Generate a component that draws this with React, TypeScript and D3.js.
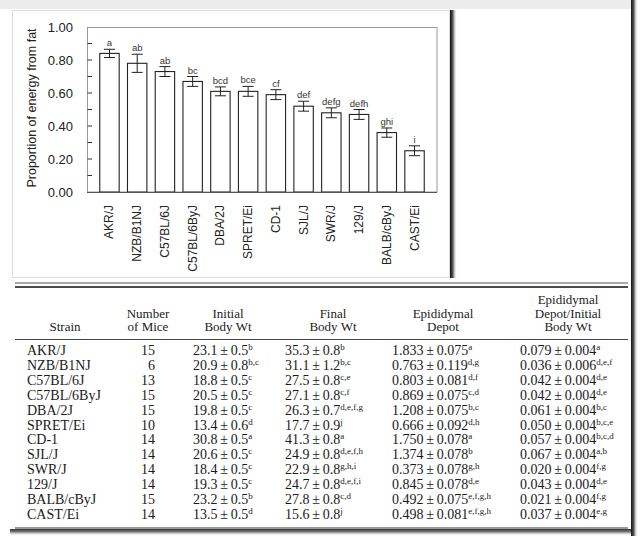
import * as d3 from 'd3';

// Bar chart: proportion of energy from fat, by strain
const strains = ['AKR/J', 'NZB/B1NJ', 'C57BL/6J', 'C57BL/6ByJ', 'DBA/2J', 'SPRET/Ei', 'CD-1', 'SJL/J', 'SWR/J', '129/J', 'BALB/cByJ', 'CAST/Ei'];
const fatProp = [0.84, 0.78, 0.73, 0.67, 0.61, 0.61, 0.59, 0.52, 0.48, 0.47, 0.36, 0.25];
const fatErr = [0.025, 0.055, 0.03, 0.03, 0.027, 0.03, 0.03, 0.03, 0.03, 0.03, 0.028, 0.03];
const fatGroups = ['a', 'ab', 'ab', 'bc', 'bcd', 'bce', 'cf', 'def', 'defg', 'defh', 'ghi', 'i'];
const yTicks = [0, 0.2, 0.4, 0.6, 0.8, 1.0];
const yMinorTicks = [0.1, 0.2, 0.3, 0.4, 0.5, 0.6, 0.7, 0.8, 0.9];

// Table columns
const mice = [15, 6, 13, 15, 15, 10, 14, 14, 14, 14, 15, 14];
const initialWt = ['23.1', '20.9', '18.8', '20.5', '19.8', '13.4', '30.8', '20.6', '18.4', '19.3', '23.2', '13.5'];
const initialSe = ['0.5', '0.8', '0.5', '0.5', '0.5', '0.6', '0.5', '0.5', '0.5', '0.5', '0.5', '0.5'];
const initialSup = ['b', 'b,c', 'c', 'c', 'c', 'd', 'a', 'c', 'c', 'c', 'b', 'd'];
const finalWt = ['35.3', '31.1', '27.5', '27.1', '26.3', '17.7', '41.3', '24.9', '22.9', '24.7', '27.8', '15.6'];
const finalSe = ['0.8', '1.2', '0.8', '0.8', '0.7', '0.9', '0.8', '0.8', '0.8', '0.8', '0.8', '0.8'];
const finalSup = ['b', 'b,c', 'c,e', 'c,f', 'd,e,f,g', 'j', 'a', 'd,e,f,h', 'g,h,i', 'd,e,f,i', 'c,d', 'j'];
const depot = ['1.833', '0.763', '0.803', '0.869', '1.208', '0.666', '1.750', '1.374', '0.373', '0.845', '0.492', '0.498'];
const depotSe = ['0.075', '0.119', '0.081', '0.075', '0.075', '0.092', '0.078', '0.078', '0.078', '0.078', '0.075', '0.081'];
const depotSup = ['a', 'd,g', 'd,f', 'c,d', 'b,c', 'd,h', 'a', 'b', 'g,h', 'd,e', 'e,f,g,h', 'e,f,g,h'];
const ratio = ['0.079', '0.036', '0.042', '0.042', '0.061', '0.050', '0.057', '0.067', '0.020', '0.043', '0.021', '0.037'];
const ratioSe = ['0.004', '0.006', '0.004', '0.004', '0.004', '0.004', '0.004', '0.004', '0.004', '0.004', '0.004', '0.004'];
const ratioSup = ['a', 'd,e,f', 'd,e', 'd,e', 'b,c', 'b,c,e', 'b,c,d', 'a,b', 'f,g', 'd,e', 'f,g', 'e,g'];

const sans = 'Liberation Sans, Arial, sans-serif';
const serif = 'Liberation Serif, Times New Roman, serif';

const App = () => {
  // chart scales
  const x = d3.scaleBand<string>().domain(strains).range([87, 437]).paddingInner(0.3).paddingOuter(0.46);
  const y = d3.scaleLinear().domain([0, 1]).range([192, 27]);

  // table rows
  const rowY = d3.scalePoint<string>().domain(strains).range([355, 519]);

  const valueCols = [
    { x: 193, v: initialWt, se: initialSe, sup: initialSup },
    { x: 285, v: finalWt, se: finalSe, sup: finalSup },
    { x: 392, v: depot, se: depotSe, sup: depotSup },
    { x: 520, v: ratio, se: ratioSe, sup: ratioSup },
  ];
  const headers = [
    { x: 65, lines: ['Strain'] },
    { x: 148, lines: ['Number', 'of Mice'] },
    { x: 228, lines: ['Initial', 'Body Wt'] },
    { x: 333, lines: ['Final', 'Body Wt'] },
    { x: 443, lines: ['Epididymal', 'Depot'] },
    { x: 568, lines: ['Epididymal', 'Depot/Initial', 'Body Wt'] },
  ];

  return (
    <svg width={640} height={545} style={{ position: 'absolute', left: 0, top: 0, background: '#fff' }}>
      <defs>
        <linearGradient id="shadowR" x1="0" x2="1" y1="0" y2="0">
          <stop offset="0" stopColor="#111" />
          <stop offset="0.4" stopColor="#555" />
          <stop offset="1" stopColor="#fff" stopOpacity="0" />
        </linearGradient>
        <linearGradient id="shadowB" x1="0" x2="0" y1="0" y2="1">
          <stop offset="0" stopColor="#333" />
          <stop offset="0.4" stopColor="#777" />
          <stop offset="1" stopColor="#fff" stopOpacity="0" />
        </linearGradient>
      </defs>

      {/* outer frame */}
      <rect x={0} y={0} width={631} height={9} fill="#ececec" />
      <rect x={631} y={0} width={7} height={536} fill="url(#shadowR)" />
      <rect x={10} y={529} width={621} height={7} fill="url(#shadowB)" />

      {/* chart panel */}
      <rect x={12.5} y={10.5} width={437} height={267} fill="#fff" stroke="#dcdcdc" />
      <rect x={450} y={10} width={7} height={268} fill="url(#shadowR)" />

      {/* plot frame */}
      <rect x={87.5} y={27.5} width={349.5} height={164.5} fill="none" stroke="#999" />
      {yMinorTicks.map((t) => (
        <line key={t} x1={87.5} x2={92} y1={y(t)} y2={y(t)} stroke="#333" />
      ))}
      {yTicks.map((t) => (
        <text key={t} x={73} y={y(t)} dy="0.35em" textAnchor="end" fontFamily={sans} fontSize={13} fill="#222">
          {t.toFixed(2)}
        </text>
      ))}
      <text transform="translate(32,108) rotate(-90)" textAnchor="middle" dominantBaseline="central" fontFamily={sans} fontSize={12.5} fill="#222">
        Proportion of energy from fat
      </text>

      {strains.map((s, i) => {
        const bx = x(s)!;
        const cx = bx + x.bandwidth() / 2;
        const top = y(fatProp[i] + fatErr[i]);
        const bot = y(fatProp[i] - fatErr[i]);
        return (
          <g key={s}>
            <rect x={bx} y={y(fatProp[i])} width={x.bandwidth()} height={y(0) - y(fatProp[i])} fill="#fff" stroke="#222" strokeWidth={1.1} />
            <line x1={cx} x2={cx} y1={top} y2={bot} stroke="#222" />
            <line x1={cx - 5.5} x2={cx + 5.5} y1={top} y2={top} stroke="#222" />
            <line x1={cx - 5.5} x2={cx + 5.5} y1={bot} y2={bot} stroke="#222" />
            <text x={cx} y={top - 3} textAnchor="middle" fontFamily={sans} fontSize={9.5} fill="#333">
              {fatGroups[i]}
            </text>
            <text transform={`translate(${cx},205) rotate(-90)`} textAnchor="end" dominantBaseline="central" fontFamily={sans} fontSize={12} fill="#222">
              {s}
            </text>
          </g>
        );
      })}
      <line x1={87} x2={437} y1={192.5} y2={192.5} stroke="#555" />

      {/* table */}
      <line x1={15} x2={628} y1={283} y2={283} stroke="#aaa" strokeWidth={2} />
      <line x1={15} x2={628} y1={287} y2={287} stroke="#111" strokeWidth={1.4} />
      {headers.map((h) =>
        h.lines.map((l, j) => (
          <text
            key={h.x + l}
            x={h.x}
            y={331 - (h.lines.length - 1 - j) * 13.5}
            textAnchor="middle"
            fontFamily={serif}
            fontSize={13}
            fill="#222"
          >
            {l}
          </text>
        ))
      )}
      <line x1={15} x2={628} y1={339.5} y2={339.5} stroke="#444" strokeWidth={1} />

      {strains.map((s, i) => (
        <g key={s} fontFamily={serif} fontSize={14} fill="#1a1a1a">
          <text x={27} y={rowY(s)}>{s}</text>
          <text x={155} y={rowY(s)} textAnchor="end">{mice[i]}</text>
          {valueCols.map((c) => (
            <text key={c.x} x={c.x} y={rowY(s)}>
              {c.v[i]}{'\u2009±\u2009'}{c.se[i]}
              <tspan dy={-5} fontSize={9}>{c.sup[i]}</tspan>
            </text>
          ))}
        </g>
      ))}
      <line x1={15} x2={628} y1={528} y2={528} stroke="#777" strokeWidth={1.3} />
    </svg>
  );
};

export default App;
